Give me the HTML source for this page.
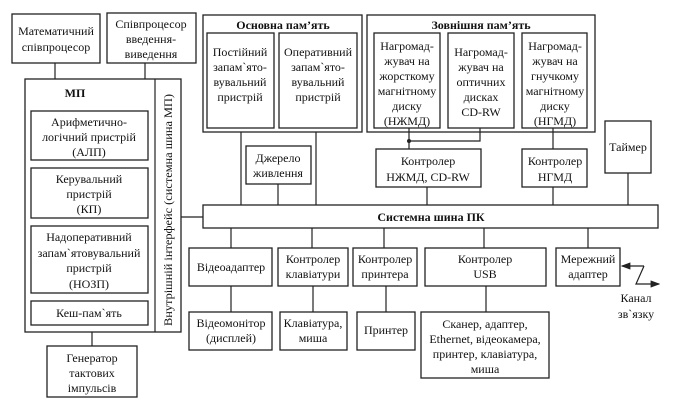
<!DOCTYPE html>
<html><head><meta charset="utf-8"><style>
html,body{margin:0;padding:0;background:#fff;font-family:"Liberation Serif",serif;}
svg{display:block;font-family:"Liberation Serif",serif;}
svg text{font-family:"Liberation Serif",serif;font-size:12px;fill:#111;text-anchor:middle;}
.b{font-weight:bold;}
rect{fill:none;stroke:#222;stroke-width:1.3;}
line,polyline{stroke:#222;stroke-width:1.2;fill:none;}
</style></head><body>
<svg width="687" height="408" viewBox="0 0 687 408" xmlns="http://www.w3.org/2000/svg" font-family="Liberation Serif, serif">
<defs><marker id="ah" markerWidth="8" markerHeight="6" refX="7" refY="3" orient="auto"><path d="M0,0 L8,3 L0,6 z" fill="#222"/></marker></defs>
<rect x="12" y="14" width="88" height="49"/>
<text x="56" y="35">Математичний</text><text x="56" y="51">співпроцесор</text>
<rect x="107" y="13" width="89" height="50"/>
<text x="151" y="28">Співпроцесор</text><text x="151" y="43">введення-</text><text x="151" y="58">виведення</text>
<line x1="55" y1="63" x2="55" y2="79"/><line x1="145" y1="63" x2="145" y2="79"/>
<rect x="25" y="79" width="156" height="253"/>
<line x1="155" y1="79" x2="155" y2="332"/>
<text x="75" y="97" class="b">МП</text>
<rect x="31" y="111" width="117" height="49"/>
<text x="89" y="126">Арифметично-</text><text x="89" y="141">логічний пристрій</text><text x="89" y="156">(АЛП)</text>
<rect x="31" y="168" width="117" height="50"/>
<text x="89" y="183">Керувальний</text><text x="89" y="198">пристрій</text><text x="89" y="213">(КП)</text>
<rect x="31" y="226" width="117" height="67"/>
<text x="89" y="241">Надоперативний</text><text x="89" y="257">запам`ятовувальний</text><text x="89" y="272">пристрій</text><text x="89" y="288">(НОЗП)</text>
<rect x="31" y="301" width="117" height="24"/>
<text x="89" y="317">Кеш-пам`ять</text>
<text transform="translate(172,210) rotate(-90)" textLength="232" lengthAdjust="spacingAndGlyphs">Внутрішній інтерфейс (системна шина МП)</text>
<line x1="181" y1="217" x2="203" y2="217"/>
<line x1="92" y1="332" x2="92" y2="346"/>
<rect x="47" y="346" width="90" height="51"/>
<text x="92" y="362">Генератор</text><text x="92" y="377">тактових</text><text x="92" y="392">імпульсів</text>
<rect x="203" y="15" width="159" height="117"/>
<text x="283" y="29" class="b">Основна пам’ять</text>
<rect x="207" y="33" width="67" height="95"/>
<text x="240" y="56">Постійний</text><text x="240" y="71">запам`ято-</text><text x="240" y="86">вувальний</text><text x="240" y="101">пристрій</text>
<rect x="279" y="33" width="78" height="95"/>
<text x="318" y="56">Оперативний</text><text x="318" y="71">запам`ято-</text><text x="318" y="86">вувальний</text><text x="318" y="101">пристрій</text>
<rect x="367" y="15" width="228" height="117"/>
<text x="481" y="29" class="b">Зовнішня пам’ять</text>
<rect x="374" y="33" width="66" height="95"/>
<text x="407" y="50">Нагромад-</text><text x="407" y="65">жувач на</text><text x="407" y="80">жорсткому</text><text x="407" y="95">магнітному</text><text x="407" y="110">диску</text><text x="407" y="125">(НЖМД)</text>
<rect x="448" y="33" width="66" height="95"/>
<text x="481" y="56">Нагромад-</text><text x="481" y="71">жувач на</text><text x="481" y="86">оптичних</text><text x="481" y="101">дисках</text><text x="481" y="116">CD-RW</text>
<rect x="522" y="33" width="65" height="95"/>
<text x="555" y="50">Нагромад-</text><text x="555" y="65">жувач на</text><text x="555" y="80">гнучкому</text><text x="555" y="95">магнітному</text><text x="555" y="110">диску</text><text x="555" y="125">(НГМД)</text>
<line x1="241" y1="132" x2="241" y2="205"/><line x1="316" y1="132" x2="316" y2="205"/>
<rect x="246" y="146" width="65" height="38"/>
<text x="278" y="162">Джерело</text><text x="278" y="177">живлення</text>
<line x1="278" y1="184" x2="278" y2="205"/>
<polyline points="409,128 409,149"/><polyline points="409,141 480,141 480,128"/>
<circle cx="409" cy="141" r="2" fill="#222"/>
<rect x="376" y="149" width="105" height="38"/>
<text x="428" y="165">Контролер</text><text x="428" y="181">НЖМД, CD-RW</text>
<line x1="427" y1="187" x2="427" y2="205"/>
<line x1="553" y1="128" x2="553" y2="149"/>
<rect x="522" y="149" width="65" height="38"/>
<text x="555" y="165">Контролер</text><text x="555" y="181">НГМД</text>
<line x1="553" y1="187" x2="553" y2="205"/>
<rect x="605" y="121" width="46" height="52"/>
<text x="628" y="151">Таймер</text>
<line x1="628" y1="173" x2="628" y2="205"/>
<rect x="203" y="205" width="455" height="23"/>
<text x="431" y="221" class="b">Системна шина ПК</text>
<line x1="231" y1="228" x2="231" y2="248"/><line x1="312" y1="228" x2="312" y2="248"/>
<line x1="384" y1="228" x2="384" y2="248"/><line x1="484" y1="228" x2="484" y2="248"/>
<line x1="588" y1="228" x2="588" y2="248"/>
<rect x="189" y="248" width="83" height="38"/><text x="231" y="271">Відеоадаптер</text>
<rect x="278" y="248" width="70" height="38"/><text x="313" y="263">Контролер</text><text x="313" y="278">клавіатури</text>
<rect x="353" y="248" width="64" height="38"/><text x="385" y="263">Контролер</text><text x="385" y="278">принтера</text>
<rect x="425" y="248" width="121" height="38"/><text x="485" y="263">Контролер</text><text x="485" y="278">USB</text>
<rect x="556" y="248" width="64" height="38"/><text x="588" y="263">Мережний</text><text x="588" y="278">адаптер</text>
<line x1="231" y1="286" x2="231" y2="312"/><line x1="313" y1="286" x2="313" y2="312"/>
<line x1="386" y1="286" x2="386" y2="312"/><line x1="486" y1="286" x2="486" y2="312"/>
<rect x="189" y="312" width="83" height="38"/><text x="231" y="327">Відеомонітор</text><text x="231" y="342">(дисплей)</text>
<rect x="280" y="312" width="67" height="38"/><text x="313" y="327">Клавіатура,</text><text x="313" y="342">миша</text>
<rect x="357" y="312" width="58" height="38"/><text x="386" y="334">Принтер</text>
<rect x="421" y="312" width="128" height="66"/>
<text x="485" y="328">Сканер, адаптер,</text><text x="485" y="343">Ethernet, відеокамера,</text><text x="485" y="358">принтер, клавіатура,</text><text x="485" y="373">миша</text>
<polyline points="644,266 622,266" marker-end="url(#ah)"/>
<polyline points="644,266 636,284 659,284" marker-end="url(#ah)"/>
<text x="636" y="302">Канал</text><text x="636" y="318">зв`язку</text>
</svg>
</body></html>
